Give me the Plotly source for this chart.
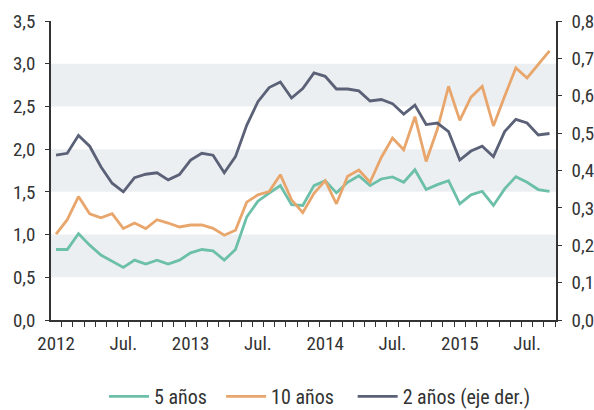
import plotly.graph_objects as go

months = [f"{y}-{m:02d}" for y in range(2012, 2016) for m in range(1, 13)][:45]

cinco = [0.825, 0.825, 1.011, 0.876, 0.760, 0.690, 0.616, 0.701, 0.655, 0.701,
         0.655, 0.701, 0.786, 0.825, 0.810, 0.701, 0.825, 1.205, 1.391, 1.484,
         1.573, 1.349, 1.341, 1.573, 1.631, 1.488, 1.612, 1.689, 1.573, 1.651,
         1.675, 1.612, 1.759, 1.527, 1.585, 1.631, 1.360, 1.465, 1.507, 1.341,
         1.535, 1.678, 1.612, 1.527, 1.507]
diez = [1.004, 1.174, 1.445, 1.244, 1.197, 1.244, 1.070, 1.135, 1.070, 1.174,
        1.135, 1.089, 1.112, 1.112, 1.073, 0.992, 1.050, 1.379, 1.465, 1.503,
        1.701, 1.407, 1.256, 1.484, 1.631, 1.360, 1.682, 1.756, 1.612, 1.903,
        2.130, 1.992, 2.380, 1.856, 2.232, 2.736, 2.337, 2.608, 2.736, 2.271,
        2.620, 2.950, 2.833, 2.988, 3.151]
dos = [0.441, 0.446, 0.494, 0.465, 0.410, 0.366, 0.343, 0.381, 0.390, 0.394,
       0.375, 0.389, 0.428, 0.446, 0.441, 0.394, 0.437, 0.521, 0.584, 0.622,
       0.637, 0.594, 0.619, 0.661, 0.652, 0.618, 0.618, 0.613, 0.586, 0.590,
       0.579, 0.551, 0.575, 0.523, 0.527, 0.504, 0.428, 0.452, 0.465, 0.437,
       0.504, 0.537, 0.527, 0.495, 0.499]

x_tick_idx = [0, 6, 12, 18, 24, 30, 36, 42]
x_tick_text = ["2012", "Jul.", "2013", "Jul.", "2014", "Jul.", "2015", "Jul."]
left_ticks = [0, 0.5, 1.0, 1.5, 2.0, 2.5, 3.0, 3.5]
right_ticks = [0, 0.1, 0.2, 0.3, 0.4, 0.5, 0.6, 0.7, 0.8]
bands = [(0.5, 1.0), (1.5, 2.0), (2.5, 3.0)]
series_names = ["5 años", "10 años", "2 años (eje der.)"]

x = list(range(len(months)))
FONT = "Liberation Sans Narrow, Roboto Condensed, Arial Narrow, sans-serif"
TXT = "#333333"
FS = 19
NB = "\u00a0"

fig = go.Figure()
fig.add_trace(go.Scatter(x=x, y=cinco, name=series_names[0] + NB * 2, mode="lines",
                         line=dict(color="#6cbfa8", width=2.8)))
fig.add_trace(go.Scatter(x=x, y=diez, name=series_names[1] + NB * 3, mode="lines",
                         line=dict(color="#e8a66c", width=2.8)))
fig.add_trace(go.Scatter(x=x, y=dos, name=series_names[2], mode="lines",
                         yaxis="y2", line=dict(color="#5b6177", width=2.8)))

for lo, hi in bands:
    fig.add_shape(type="rect", xref="paper", yref="y", x0=0, x1=1, y0=lo, y1=hi,
                  fillcolor="#eceff2", line=dict(width=0), layer="below")

fig.update_layout(
    template="none",
    width=594, height=410,
    margin=dict(l=51, r=38, t=21, b=90, autoexpand=False),
    paper_bgcolor="white", plot_bgcolor="white",
    separators=",.",
    font=dict(family=FONT, size=FS, color=TXT),
    showlegend=True,
    legend=dict(orientation="h", x=0.105, xanchor="left", y=-0.19, yanchor="top",
                font=dict(size=20, color=TXT), traceorder="normal",
                itemwidth=40, bgcolor="rgba(0,0,0,0)"),
    xaxis=dict(range=[-0.45, 44.58], tickmode="array", tickvals=x_tick_idx,
               ticktext=x_tick_text, ticks="", showgrid=False, zeroline=False,
               showline=True, linecolor="#333333", linewidth=1.5, automargin=False,
               tickfont=dict(size=FS, color=TXT), ticklabelstandoff=5,
               minor=dict(tickmode="linear", tick0=-0.5, dtick=1, ticks="outside",
                          ticklen=5, tickwidth=1, tickcolor="#333333", showgrid=False)),
    yaxis=dict(range=[0, 3.5], tickmode="array", tickvals=left_ticks,
               tickformat=".1f", ticks="outside", ticklen=4, tickcolor="#333333",
               showgrid=False, zeroline=False, showline=True, linecolor="#333333",
               linewidth=1.5, automargin=False, tickfont=dict(size=FS, color=TXT),
               ticklabelstandoff=6),
    yaxis2=dict(range=[0, 0.8], tickmode="array", tickvals=right_ticks,
                tickformat=".1f", overlaying="y", side="right", ticks="outside",
                ticklen=4, tickcolor="#333333", showgrid=False, zeroline=False,
                showline=True, linecolor="#333333", linewidth=1.5, automargin=False,
                tickfont=dict(size=FS, color=TXT), ticklabelstandoff=6),
)

fig.write_html("out.html", config={"displayModeBar": False},
               post_script="document.body.style.margin='0';document.body.style.padding='0';")
